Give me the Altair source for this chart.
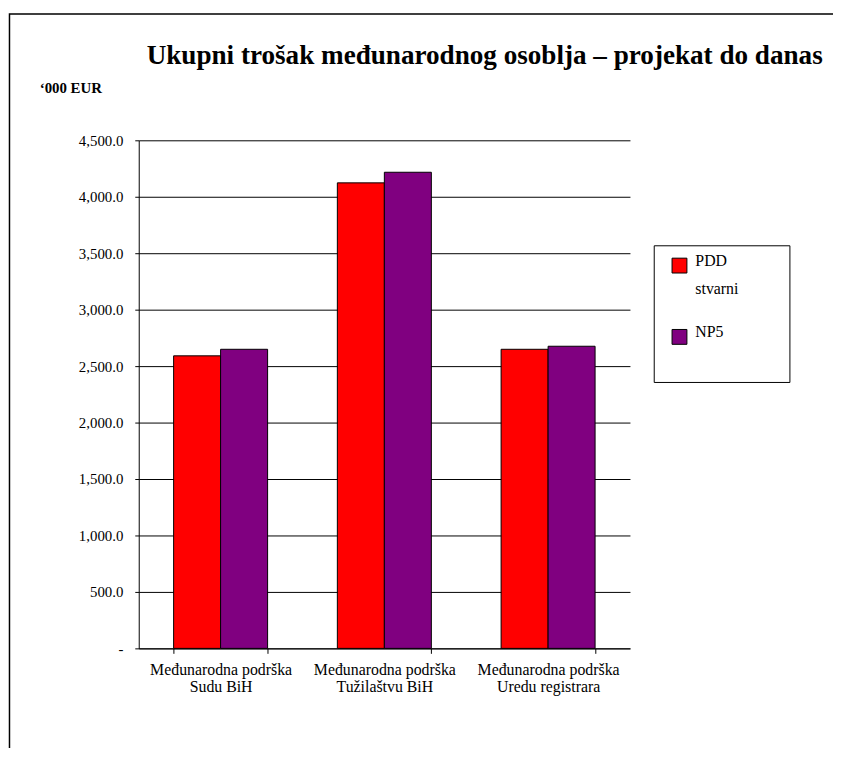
import altair as alt
import pandas as pd

categories = [
    "Međunarodna podrška\nSudu BiH",
    "Međunarodna podrška\nTužilaštvu BiH",
    "Međunarodna podrška\nUredu registrara",
]
series_names = ["PDD stvarni", "NP5"]
pdd_stvarni = [2591, 4123, 2649]
np5 = [2649, 4217, 2676]
series_colors = ["#FF0000", "#800080"]
y_ticks = [0, 500, 1000, 1500, 2000, 2500, 3000, 3500, 4000, 4500]

title_text = "Ukupni trošak međunarodnog osoblja – projekat do danas"
unit_text = "‘000 EUR"

rows = []
for c, a, b in zip(categories, pdd_stvarni, np5):
    rows.append({"kategorija": c, "serija": series_names[0], "vrijednost": a})
    rows.append({"kategorija": c, "serija": series_names[1], "vrijednost": b})
df = pd.DataFrame(rows)

FONT = "Liberation Serif"
W, H = 496, 513

bars = alt.Chart(df).mark_bar(stroke="black", strokeWidth=1).encode(
    x=alt.X(
        "kategorija:N",
        sort=categories,
        scale=alt.Scale(paddingInner=0.426, paddingOuter=0.213),
        axis=alt.Axis(
            title=None,
            labelAngle=0,
            labelExpr="split(datum.label, '\\n')",
            labelFont=FONT,
            labelFontSize=16,
            labelColor="black",
            labelLineHeight=18,
            labelBaseline="top",
            labelPadding=8,
            tickBand="extent",
            tickSize=5,
            tickColor="black",
            domainColor="black",
            grid=False,
        ),
    ),
    xOffset=alt.XOffset("serija:N", sort=series_names, scale=alt.Scale(paddingInner=0, paddingOuter=0)),
    y=alt.Y(
        "vrijednost:Q",
        scale=alt.Scale(domain=[0, 4500], nice=False),
        axis=alt.Axis(
            title=None,
            values=y_ticks,
            labelExpr="datum.value == 0 ? '-' : format(datum.value, ',.1f')",
            labelFont=FONT,
            labelFontSize=15,
            labelColor="black",
            labelPadding=12,
            tickSize=4,
            tickColor="black",
            domainColor="black",
            grid=True,
            gridColor="black",
            gridOpacity=1,
            gridWidth=1,
        ),
    ),
    color=alt.Color(
        "serija:N",
        sort=series_names,
        scale=alt.Scale(domain=series_names, range=series_colors),
        legend=alt.Legend(
            title=None,
            orient="none",
            legendX=538,
            legendY=118.5,
            padding=0,
            symbolType="square",
            symbolSize=225,
            symbolStrokeColor="black",
            symbolStrokeWidth=1,
            symbolOpacity=1,
            labelFont=FONT,
            labelFontSize=16,
            labelColor="black",
            labelOffset=8,
            labelBaseline="alphabetic",
            labelExpr="split(datum.label, ' ')",
            rowPadding=27,
        ),
    ),
)

one = pd.DataFrame({"k": [0]})

frame = alt.Chart(one).mark_rect(fill=None, stroke="black", strokeWidth=1.5).encode(
    x=alt.value(-130.5), x2=alt.value(760), y=alt.value(-127.5), y2=alt.value(700)
)

legend_box = alt.Chart(one).mark_rect(fill=None, stroke="black", strokeWidth=1).encode(
    x=alt.value(520.5), x2=alt.value(657.5), y=alt.value(106.5), y2=alt.value(244.5)
)

title = alt.Chart(one).mark_text(
    text=title_text, font=FONT, fontSize=27.4, fontWeight="bold", align="left",
    baseline="alphabetic", color="black",
).encode(x=alt.value(8), y=alt.value(-77))

unit = alt.Chart(one).mark_text(
    text=unit_text, font=FONT, fontSize=15, fontWeight="bold", align="left",
    baseline="alphabetic", color="black",
).encode(x=alt.value(-100), y=alt.value(-48))

chart = alt.layer(frame, bars, legend_box, title, unit).properties(
    width=W,
    height=H,
    padding={"left": 132, "top": 130, "right": 205, "bottom": 97},
    autosize=alt.AutoSizeParams(type="none"),
    background="white",
).configure(
    view={"strokeWidth": 0},
    style={"guide-label": {"lineHeight": 29}},
)

chart.save("out.html", embed_options={"renderer": "svg", "actions": False})
